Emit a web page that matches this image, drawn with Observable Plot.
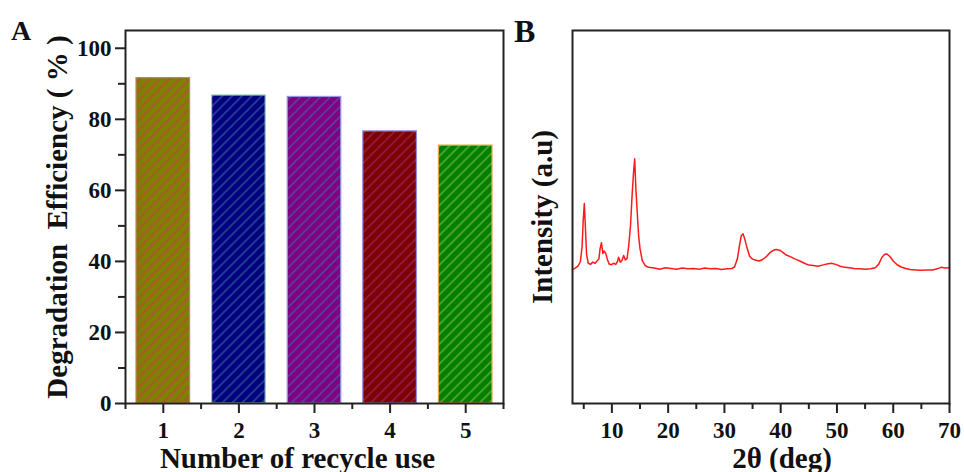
<!DOCTYPE html>
<html>
<head>
<meta charset="utf-8">
<script src="https://cdn.jsdelivr.net/npm/d3@7"></script>
<script src="https://cdn.jsdelivr.net/npm/@observablehq/plot@0.6"></script>
<style>
  html, body { margin: 0; padding: 0; background: #fff; }
  #wrap { position: relative; width: 964px; height: 472px; overflow: hidden; background: #fff; }
  .panel { position: absolute; font-family: 'Liberation Serif', 'Times New Roman', serif; font-weight: bold; line-height: 1; color: #111; }
</style>
</head>
<body>
<div id="wrap">
  <svg width="0" height="0" style="position:absolute"><defs id="defs"></defs></svg>
</div>
<script>
// ---------- Panel A data ----------
const cycles = [1, 2, 3, 4, 5];
const efficiency = [91.6, 86.7, 86.3, 76.6, 72.6];
const barColors = ["#808000", "#000080", "#800080", "#800000", "#008000"];
const hatchColors = ["#a85a2a", "#1f3c8c", "#5a3aa0", "#8a1a40", "#4aa028"];
const borderColors = ["#c8806a", "#8fd0a0", "#9a9ae0", "#8c8ce0", "#e0a848"];
const yMajorTicksA = [0, 20, 40, 60, 80, 100];
const yMinorTicksA = [10, 30, 50, 70, 90];
const xMajorTicksA = [1, 2, 3, 4, 5];
const xMinorTicksA = [0.5, 1.5, 2.5, 3.5, 4.5, 5.5];

// ---------- Panel B data ----------
const twoTheta = [3.0, 3.5, 4.0, 4.4, 4.7, 4.9, 5.1, 5.3, 5.5, 5.8, 6.2, 6.6, 7.0, 7.4, 7.7, 7.9, 8.15, 8.4, 8.6, 8.9,
  9.2, 9.5, 9.9, 10.3, 10.7, 11.0, 11.2, 11.5, 11.8, 12.1, 12.4, 12.7, 13.0, 13.3, 13.6, 13.85, 14.05, 14.25, 14.5, 14.75,
  15.0, 15.4, 15.9, 16.5, 17.5, 18.5, 19.5, 20.5, 21.5, 22.5, 23.5, 24.5, 25.5, 26.5, 27.5, 28.5, 29.5, 30.5, 31.3, 31.8,
  32.3, 32.7, 33.0, 33.3, 33.6, 34.0, 34.5, 35.0, 35.6, 36.2, 36.8, 37.4, 38.0, 38.6, 39.2, 39.8, 40.4, 41.0, 41.8, 42.6,
  43.4, 44.2, 45.0, 45.8, 46.6, 47.4, 48.2, 49.0, 49.8, 50.6, 51.4, 52.2, 53.0, 54.0, 55.0, 56.0, 56.8, 57.4, 58.0, 58.5,
  58.9, 59.4, 60.0, 60.7, 61.4, 62.2, 63.0, 64.0, 65.0, 66.0, 67.0, 67.8, 68.5, 69.2, 70.0];
const intensity = [35.9, 36.3, 36.9, 38.0, 42.0, 49.0, 53.6, 47.0, 40.0, 37.6, 37.3, 37.9, 37.6, 38.3, 38.8, 41.5, 43.1, 40.2, 40.9, 40.3,
  38.6, 37.4, 37.2, 37.6, 37.3, 38.1, 39.2, 37.9, 38.4, 39.7, 38.5, 38.9, 42.4, 47.5, 56.0, 62.0, 65.6, 58.0, 51.3, 45.0,
  41.5, 38.3, 37.0, 36.5, 36.3, 36.0, 36.4, 36.2, 36.0, 36.3, 36.1, 36.2, 36.0, 36.3, 36.1, 36.2, 35.9, 36.1, 36.2, 36.6,
  38.8, 42.5, 45.0, 45.5, 44.2, 41.8, 39.4, 38.7, 38.4, 38.2, 38.6, 39.3, 40.3, 41.0, 41.3, 41.1, 40.5, 39.8, 39.3, 38.7,
  38.2, 37.6, 37.1, 37.0, 36.8, 37.1, 37.4, 37.6, 37.3, 36.8, 36.5, 36.4, 36.2, 36.1, 36.0, 36.1, 36.4, 37.3, 39.2, 40.0,
  40.1, 39.4, 38.2, 37.2, 36.6, 36.2, 35.9, 35.8, 35.7, 35.8, 35.8, 36.1, 36.5, 36.3, 36.4];
const xMajorTicksB = [10, 20, 30, 40, 50, 60, 70];
const xMinorTicksB = [5, 15, 25, 35, 45, 55, 65];

// ---------- hatch patterns ----------
const defs = document.getElementById("defs");
const NS = "http://www.w3.org/2000/svg";
barColors.forEach((c, i) => {
  const p = document.createElementNS(NS, "pattern");
  p.setAttribute("id", "hatch" + i);
  p.setAttribute("patternUnits", "userSpaceOnUse");
  p.setAttribute("width", "7");
  p.setAttribute("height", "7");
  p.setAttribute("patternTransform", "rotate(45)");
  const r = document.createElementNS(NS, "rect");
  r.setAttribute("width", "7"); r.setAttribute("height", "7"); r.setAttribute("fill", c);
  const l = document.createElementNS(NS, "line");
  l.setAttribute("x1", "1"); l.setAttribute("y1", "0"); l.setAttribute("x2", "1"); l.setAttribute("y2", "7");
  l.setAttribute("stroke", hatchColors[i]); l.setAttribute("stroke-width", "2");
  p.appendChild(r); p.appendChild(l);
  defs.appendChild(p);
});

const bars = cycles.map((c, i) => ({cycle: c, eff: efficiency[i], i}));
const xrd = twoTheta.map((t, i) => ({t, v: intensity[i]}));

const font = "'Liberation Serif', 'Times New Roman', serif";
const baseStyle = {fontFamily: font, fontWeight: "bold", fontSize: "23px", background: "transparent", color: "#111", overflow: "visible"};
const axisStyle = {fontSize: 23, fontWeight: "bold", label: null, strokeWidth: 2, stroke: "#222"};

const chartA = Plot.plot({
  width: 510, height: 472,
  marginLeft: 125, marginRight: 7, marginTop: 30, marginBottom: 69,
  style: baseStyle,
  x: {type: "linear", domain: [0.5, 5.5]},
  y: {domain: [0, 105]},
  color: {type: "identity"},
  marks: [
    Plot.rectY(bars, {
      x1: d => d.cycle - 0.5, x2: d => d.cycle + 0.5, y: "eff",
      fill: d => `url(#hatch${d.i})`, stroke: d => borderColors[d.i], strokeWidth: 1.2,
      insetLeft: 11, insetRight: 11
    }),
    Plot.frame({stroke: "#222", strokeWidth: 2}),
    Plot.axisY({ticks: yMajorTicksA, tickSize: 10, tickPadding: 4, ...axisStyle}),
    Plot.axisY({ticks: yMinorTicksA, tickSize: 7, tickFormat: () => "", ...axisStyle}),
    Plot.axisX({ticks: xMajorTicksA, tickSize: 10, tickPadding: 8, tickFormat: d => String(d), ...axisStyle}),
    Plot.axisX({ticks: xMinorTicksA, tickSize: 6, tickFormat: () => "", ...axisStyle}),
    Plot.text(["Number of recycle use"], {frameAnchor: "bottom", text: d => d, textAnchor: "middle", lineAnchor: "middle", dy: 55, dx: -17, fontSize: 29, fontWeight: "bold"}),
    Plot.text(["Degradation\u00a0 Efficiency (\u00a0%\u00a0)"], {frameAnchor: "left", text: d => d, textAnchor: "middle", lineAnchor: "middle", rotate: -90, dx: -68, fontSize: 29, fontWeight: "bold"})
  ]
});

const chartB = Plot.plot({
  width: 454, height: 472,
  marginLeft: 62, marginRight: 15, marginTop: 30, marginBottom: 69,
  style: baseStyle,
  x: {domain: [3, 70]},
  y: {domain: [0, 100], axis: null},
  marks: [
    Plot.line(xrd, {x: "t", y: "v", stroke: "#ff1a1a", strokeWidth: 1.5}),
    Plot.frame({stroke: "#222", strokeWidth: 2}),
    Plot.axisX({ticks: xMajorTicksB, tickSize: 10, tickPadding: 8, tickFormat: d => String(d), ...axisStyle}),
    Plot.axisX({ticks: xMinorTicksB, tickSize: 6, tickFormat: () => "", ...axisStyle}),
    Plot.text(["2\u03b8 (deg)"], {frameAnchor: "bottom", text: d => d, textAnchor: "middle", lineAnchor: "middle", dy: 55, dx: 21, fontSize: 29, fontWeight: "bold"}),
    Plot.text(["Intensity (a.u)"], {frameAnchor: "left", text: d => d, textAnchor: "middle", lineAnchor: "middle", rotate: -90, dx: -30, fontSize: 29, fontWeight: "bold"})
  ]
});

for (const [svg, left] of [[chartA, 0], [chartB, 510]]) {
  svg.style.position = "absolute";
  svg.style.top = "0px";
  svg.style.left = left + "px";
}

const wrap = document.getElementById("wrap");
wrap.appendChild(chartA);
wrap.appendChild(chartB);

const labA = document.createElement("div");
labA.className = "panel"; labA.textContent = "A";
Object.assign(labA.style, {left: "11px", top: "17px", fontSize: "28px"});
const labB = document.createElement("div");
labB.className = "panel"; labB.textContent = "B";
Object.assign(labB.style, {left: "514px", top: "15px", fontSize: "32px"});
wrap.appendChild(labA);
wrap.appendChild(labB);
</script>
</body>
</html>
